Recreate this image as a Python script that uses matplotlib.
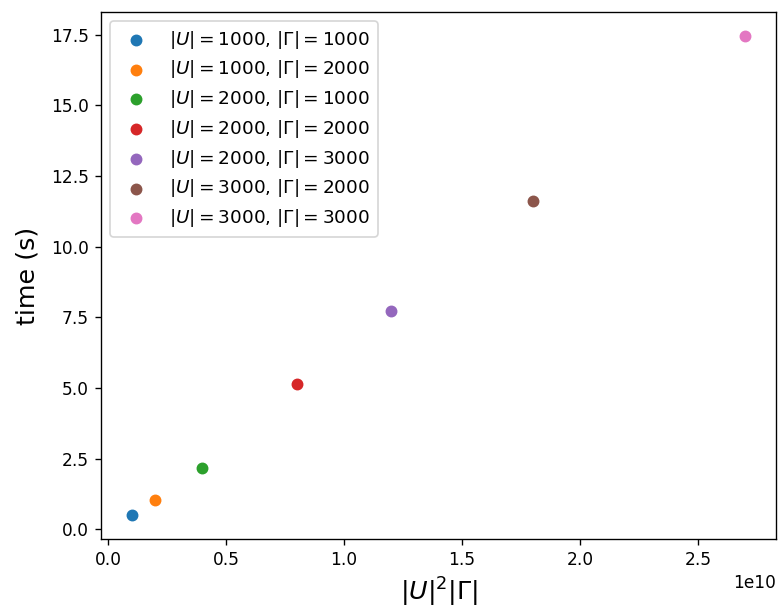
import matplotlib
matplotlib.use("Agg")
import matplotlib.pyplot as plt

U = [1000, 1000, 2000, 2000, 2000, 3000, 3000]
G = [1000, 2000, 1000, 2000, 3000, 2000, 3000]
times = [0.50, 1.04, 2.16, 5.12, 7.71, 11.60, 17.45]

DPI = 122
fig = plt.figure(figsize=(781 / DPI, 611 / DPI), dpi=DPI)
ax = fig.add_axes([101 / 781, 1 - 539 / 611, (776 - 101) / 781, (539 - 12) / 611])

for u, g, t in zip(U, G, times):
    ax.scatter(u ** 2 * g, t, label=rf"$|U|={u}$, $|\Gamma|={g}$")

ax.set_xlabel(r"$|U|^2|\Gamma|$", fontsize=15)
ax.set_ylabel("time (s)", fontsize=15, labelpad=7)
ax.legend(loc="upper left", fontsize=10.9, labelspacing=0.42)
fig.savefig("out.png", dpi=DPI)
